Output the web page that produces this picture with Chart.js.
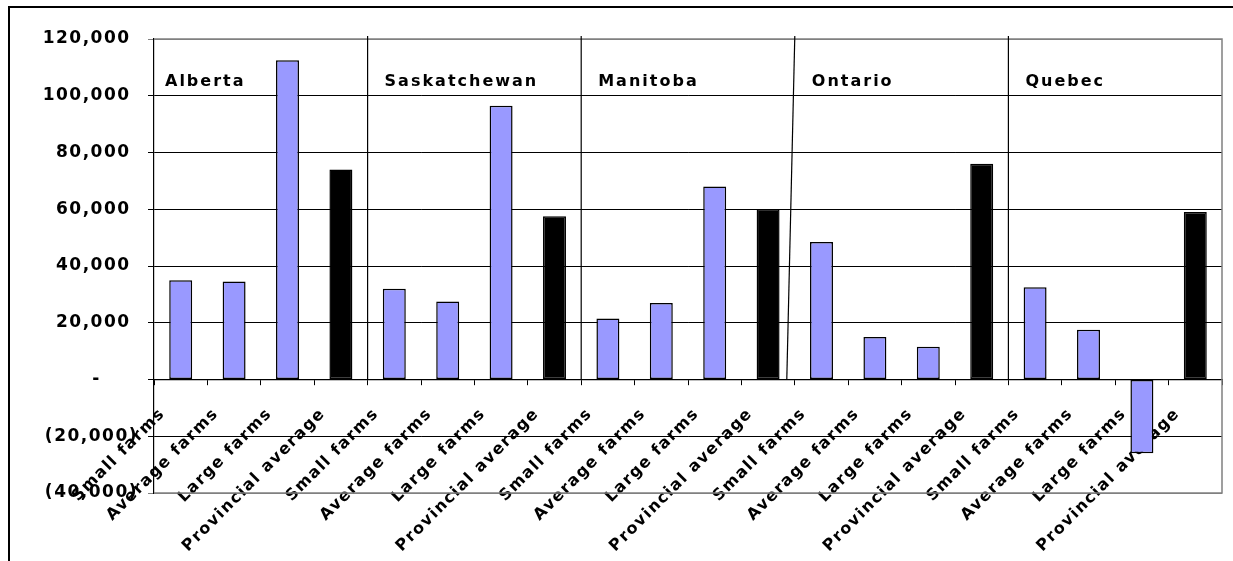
<!DOCTYPE html>
<html>
<head>
<meta charset="utf-8">
<script src="https://cdn.jsdelivr.net/npm/chart.js@4.4.1/dist/chart.umd.min.js"></script>
<style>
  html, body { margin: 0; padding: 0; background: #fff; overflow: hidden; }
  #wrap { width: 1233px; height: 561px; position: relative; background: #fff; }
</style>
</head>
<body>
<div id="wrap"><canvas id="farmChart"></canvas></div>
<script>
const provinces = ['Alberta', 'Saskatchewan', 'Manitoba', 'Ontario', 'Quebec'];
const farmTypes = ['Small farms', 'Average farms', 'Large farms', 'Provincial average'];

const alberta = [35000, 34500, 112500, 74000];
const saskatchewan = [32000, 27500, 96500, 57500];
const manitoba = [21500, 27000, 68000, 60000];
const ontario = [48500, 15000, 11500, 76000];
const quebec = [32500, 17500, -26000, 59000];

const yMin = -40000, yMax = 120000, yStep = 20000;

const byProvince = [alberta, saskatchewan, manitoba, ontario, quebec];
const labels = provinces.flatMap(() => farmTypes);
const values = byProvince.flat();
const colors = labels.map(l => l === 'Provincial average' ? '#000000' : '#9999ff');

const number = new Intl.NumberFormat('en-US');
const yLabel = v => {
  if (v === 0) return '-     ';
  if (v < 0) return '(' + number.format(-v) + ')';
  return number.format(v) + ' ';
};

// outer frame, plot border, province dividers and names
const frame = {
  id: 'frame',
  beforeDraw(chart) {
    chart.ctx.letterSpacing = '1.5px';
  },
  afterDraw(chart) {
    const ctx = chart.ctx;
    ctx.save();
    ctx.fillStyle = '#000';
    ctx.fillRect(8, 6, chart.width - 8, 2);
    ctx.fillRect(8, 6, 2, chart.height - 6);
    ctx.restore();
  },
  afterDatasetsDraw(chart, args, opts) {
    const { ctx, chartArea: a, scales: { x, y } } = chart;
    ctx.save();
    ctx.strokeStyle = '#808080';
    ctx.lineWidth = 1.5;
    ctx.beginPath();
    ctx.moveTo(a.left, a.top);
    ctx.lineTo(a.right, a.top);
    ctx.lineTo(a.right, a.bottom);
    ctx.lineTo(a.left, a.bottom);
    ctx.stroke();

    const step = x.getPixelForValue(1) - x.getPixelForValue(0);
    const zero = y.getPixelForValue(0);
    ctx.strokeStyle = '#000';
    ctx.lineWidth = 1.2;
    provinces.forEach((p, i) => {
      const left = x.getPixelForValue(i * farmTypes.length) - step / 2;
      if (i > 0) {
        const lean = (opts.lean[i] || 0) * step;
        ctx.beginPath();
        ctx.moveTo(left, a.top - 3);
        ctx.lineTo(left + lean, zero);
        ctx.stroke();
      }
      ctx.fillStyle = '#000';
      ctx.font = 'bold 16px "DejaVu Sans"';
      ctx.textBaseline = 'middle';
      ctx.textAlign = 'left';
      ctx.letterSpacing = '2px';
      ctx.fillText(p, left + (i === 0 ? 11 : 17), y.getPixelForValue(opts.nameAt));
    });
    ctx.restore();
  }
};

new Chart(document.getElementById('farmChart'), {
  type: 'bar',
  data: {
    labels,
    datasets: [{
      data: values,
      backgroundColor: colors,
      borderColor: '#000',
      borderWidth: 1.5,
      borderSkipped: false,
      barPercentage: 0.43,
      categoryPercentage: 1
    }]
  },
  options: {
    responsive: true,
    maintainAspectRatio: false,
    animation: false,
    layout: { padding: { left: 0, top: 39, right: 11, bottom: 68 } },
    plugins: {
      legend: { display: false },
      tooltip: { enabled: false },
      frame: { lean: [0, 0, 0, -0.15, 0], nameAt: 105000 }
    },
    scales: {
      x: {
        position: { y: 0 },
        grid: { offset: true, drawOnChartArea: false, tickLength: 5, color: '#000', lineWidth: 1 },
        border: { color: '#000', width: 1.2 },
        ticks: {
          autoSkip: false,
          minRotation: 45,
          maxRotation: 45,
          color: '#000',
          padding: 20,
          labelOffset: -18,
          font: { family: '"DejaVu Sans"', size: 16, weight: 'bold' }
        }
      },
      y: {
        min: yMin,
        max: yMax,
        afterFit(scale) { scale.width = 154; },
        grid: {
          color: c => (c.tick && (c.tick.value === yMax || c.tick.value === yMin)) ? '#808080' : '#000',
          lineWidth: 1,
          tickLength: 6
        },
        border: { color: '#000', width: 1.2 },
        ticks: {
          stepSize: yStep,
          color: '#000',
          padding: 10,
          callback: v => yLabel(v),
          font: { family: '"DejaVu Sans"', size: 17, weight: 'bold' }
        }
      }
    }
  },
  plugins: [frame]
});
</script>
</body>
</html>
